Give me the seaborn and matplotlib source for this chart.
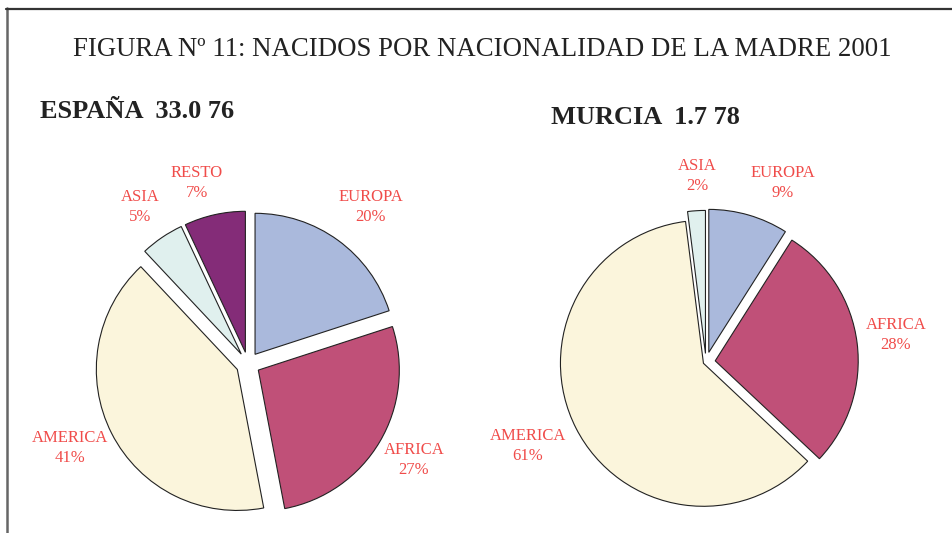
import numpy as np
import matplotlib
matplotlib.use("Agg")
import matplotlib.pyplot as plt
from matplotlib.lines import Line2D
import seaborn as sns

sns.set_theme(style="white")
plt.rcParams['font.family'] = ['Liberation Serif', 'DejaVu Serif']

# data
spain_labels = ["EUROPA", "AFRICA", "AMERICA", "ASIA", "RESTO"]
spain_pct = [20, 27, 41, 5, 7]
murcia_labels = ["EUROPA", "AFRICA", "AMERICA", "ASIA"]
murcia_pct = [9, 28, 61, 2]

colors = {"EUROPA": "#aab9dc", "AFRICA": "#c05078", "AMERICA": "#fbf5dc",
          "ASIA": "#e0f0ee", "RESTO": "#842c78"}
txt_red = "#f04c4a"

W, H = 953, 533
fig = plt.figure(figsize=(W / 100, H / 100), dpi=100)
fig.patch.set_facecolor("white")


def px(x, y):
    return x / W, 1 - y / H


def pie_axes(cx, cy, r, lim=1.25):
    s = 2 * lim * r
    ax = fig.add_axes([(cx - s / 2) / W, (H - cy - s / 2) / H, s / W, s / H])
    ax.set_xlim(-lim, lim)
    ax.set_ylim(-lim, lim)
    ax.set_aspect("equal")
    ax.axis("off")
    return ax


# Spain pie
ax1 = pie_axes(248, 364, 141)
ax1.pie(spain_pct, colors=[colors[l] for l in spain_labels],
        explode=[0.085] * len(spain_pct), startangle=90, counterclock=False,
        wedgeprops=dict(edgecolor="#222222", linewidth=0.8))

# Murcia pie
ax2 = pie_axes(706, 362, 143)
ax2.pie(murcia_pct, colors=[colors[l] for l in murcia_labels],
        explode=[0.07, 0.065, 0.02, 0.06], startangle=90, counterclock=False,
        wedgeprops=dict(edgecolor="#222222", linewidth=0.8))

# slice labels (pixel centres of the two-line labels)
spain_pos = [(371, 207), (414, 460), (70, 448), (140, 207), (197, 183)]
murcia_pos = [(783, 183), (896, 335), (528, 446), (697, 176)]
for labs, pcts, pos in [(spain_labels, spain_pct, spain_pos),
                        (murcia_labels, murcia_pct, murcia_pos)]:
    for l, p, (x, y) in zip(labs, pcts, pos):
        fig.text(*px(x, y), f"{l}\n{p}%", ha="center", va="center",
                 color=txt_red, fontsize=12, linespacing=1.4)

fig.text(*px(482, 50), "FIGURA Nº 11: NACIDOS POR NACIONALIDAD DE LA MADRE 2001",
         ha="center", va="center", fontsize=19.3, color="#222222")
fig.text(*px(40, 111), "ESPAÑA  33.0 76", ha="left", va="center",
         fontsize=19, fontweight="bold", color="#222222")
fig.text(*px(551, 118), "MURCIA  1.7 78", ha="left", va="center",
         fontsize=19, fontweight="bold", color="#222222")

# frame
fig.add_artist(Line2D([7 / W, 7 / W], [0, 1 - 8 / H], transform=fig.transFigure,
                      color="#666666", linewidth=1.8))
fig.add_artist(Line2D([6 / W, 1], [1 - 8.5 / H, 1 - 8.5 / H], transform=fig.transFigure,
                      color="#333333", linewidth=1.6))

fig.savefig("out.png", dpi=100, facecolor="white")
